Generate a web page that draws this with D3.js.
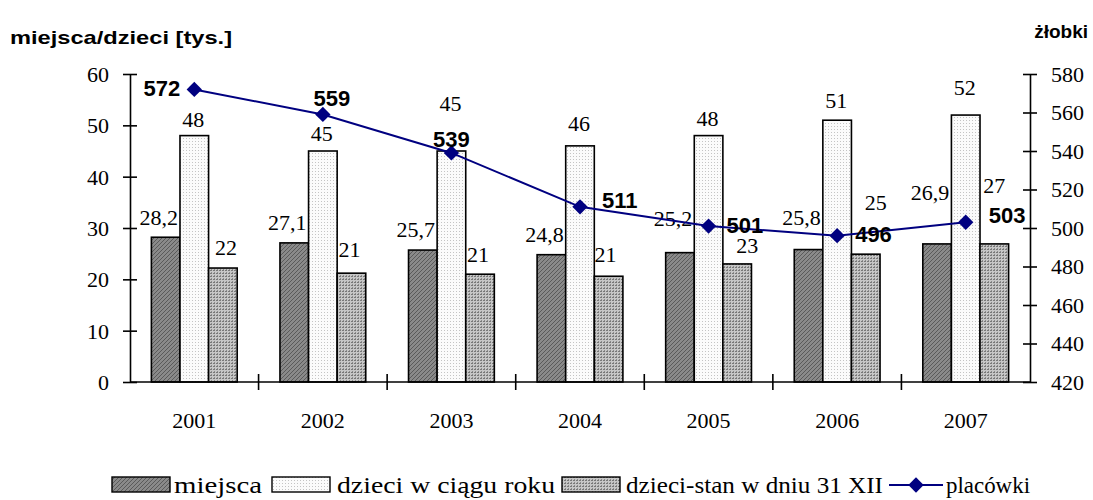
<!DOCTYPE html>
<html>
<head>
<meta charset="utf-8">
<script src="https://cdn.jsdelivr.net/npm/d3@7"></script>
<style>
  body { margin: 0; background: #fff; }
  svg { display: block; }
  .serif { font-family: "Liberation Serif", "Times New Roman", serif; }
  .sans { font-family: "Liberation Sans", Arial, sans-serif; font-weight: bold; }
</style>
</head>
<body>
<svg id="chart" width="1093" height="500"></svg>
<script>
var years = ["2001", "2002", "2003", "2004", "2005", "2006", "2007"]
var miejsca = [28.2, 27.1, 25.7, 24.8, 25.2, 25.8, 26.9]
var dzieciRok = [48, 45, 45, 46, 48, 51, 52]
var dzieciStan = [22.2, 21.2, 21, 20.6, 23, 24.9, 26.9]
var placowki = [572, 559, 539, 511, 501, 496, 503]
var leftTicks = [0, 10, 20, 30, 40, 50, 60]
var rightTicks = [420, 440, 460, 480, 500, 520, 540, 560, 580]

// label nudges (dx, dy from bar top) - hand placed like in the original
var miejscaDy = [-12, -13, -13, -13, -27, -25, -44]
var rokDy = [-9, -10, -40, -15, -10, -12, -20]
var stanDx = [3, -2, -2, -3, 10, 10, 0]
var stanDy = [-13, -16, -12, -14, -11, -44, -51]
// line labels: [anchor, dx, dy]
var lineLab = [["end", -14, 7], ["middle", 9, -8], ["middle", 0, -6], ["start", 22, 1],
               ["start", 18, 7], ["start", 18, 6], ["start", 23, 1]]

var svg = d3.select("#chart")
var pL = 130, pR = 1030, pT = 74, pB = 382

var x = d3.scaleBand().domain(years).range([pL, pR])
var y = d3.scaleLinear().domain([0, 60]).range([pB, pT])
var y2 = d3.scaleLinear().domain([420, 580]).range([pB, pT])
var bw = 28.6

var comma = function(v) { return d3.format(".1f")(v).replace(".", ",") }

// patterns
var defs = svg.append("defs")
var p1 = defs.append("pattern").attr("id", "pMiejsca").attr("patternUnits", "userSpaceOnUse")
  .attr("width", 4).attr("height", 4)
p1.append("rect").attr("width", 4).attr("height", 4).attr("fill", "#8a8a8a")
p1.append("path").attr("d", "M0,4 L4,0 M-1,1 L1,-1 M3,5 L5,3").attr("stroke", "#5a5a5a").attr("stroke-width", 1)

var p2 = defs.append("pattern").attr("id", "pRok").attr("patternUnits", "userSpaceOnUse")
  .attr("width", 3).attr("height", 3)
p2.append("rect").attr("width", 3).attr("height", 3).attr("fill", "#fbfbfb")
p2.append("rect").attr("width", 1).attr("height", 1).attr("fill", "#c4c4c4")

var p3 = defs.append("pattern").attr("id", "pStan").attr("patternUnits", "userSpaceOnUse")
  .attr("width", 3).attr("height", 3)
p3.append("rect").attr("width", 3).attr("height", 3).attr("fill", "#c6c6c6")
p3.append("rect").attr("width", 2).attr("height", 1).attr("fill", "#787878")
p3.append("rect").attr("x", 1).attr("y", 2).attr("width", 1).attr("height", 1).attr("fill", "#8a8a8a")

var series = [
  { vals: miejsca, fill: "url(#pMiejsca)", off: -1 },
  { vals: dzieciRok, fill: "url(#pRok)", off: 0 },
  { vals: dzieciStan, fill: "url(#pStan)", off: 1 }
]

function cx(d, i) { return x(years[i]) + x.bandwidth() / 2 }

series.forEach(function(s) {
  svg.append("g").selectAll("rect")
    .data(s.vals)
    .enter()
    .append("rect")
    .attr("x", function(d, i) { return cx(d, i) + s.off * bw - bw / 2 })
    .attr("y", function(d) { return y(d) })
    .attr("width", bw)
    .attr("height", function(d) { return pB - y(d) })
    .attr("fill", s.fill)
    .attr("stroke", "#000")
    .attr("stroke-width", 1.6)
})

// bar labels
var labs = svg.append("g").attr("class", "serif").style("font-size", "22px").attr("fill", "#000")
labs.selectAll("text.m").data(miejsca).enter().append("text")
  .attr("text-anchor", "middle")
  .attr("x", function(d, i) { return cx(d, i) - bw - 7 })
  .attr("y", function(d, i) { return y(d) + miejscaDy[i] })
  .text(comma)
labs.selectAll("text.r").data(dzieciRok).enter().append("text")
  .attr("text-anchor", "middle")
  .attr("x", function(d, i) { return cx(d, i) - 1 })
  .attr("y", function(d, i) { return y(d) + rokDy[i] })
  .text(d3.format(".0f"))
labs.selectAll("text.s").data(dzieciStan).enter().append("text")
  .attr("text-anchor", "middle")
  .attr("x", function(d, i) { return cx(d, i) + bw + stanDx[i] })
  .attr("y", function(d, i) { return y(d) + stanDy[i] })
  .text(d3.format(".0f"))

// axes
var axL = svg.append("g").attr("transform", "translate(" + pL + ",0)")
  .call(d3.axisLeft(y).tickValues(leftTicks).tickSize(7).tickSizeOuter(0).tickPadding(14))
var axR = svg.append("g").attr("transform", "translate(" + pR + ",0)")
  .call(d3.axisRight(y2).tickValues(rightTicks).tickSize(7).tickSizeOuter(0).tickPadding(14))
;[axL, axR].forEach(function(a) {
  a.attr("font-family", null).attr("font-size", null)
  a.select(".domain").attr("stroke", "#000").attr("stroke-width", 1.6)
  a.selectAll(".tick line").attr("x1", -7).attr("x2", 7).attr("stroke", "#000").attr("stroke-width", 1.6)
  a.selectAll(".tick text").attr("class", "serif").style("font-size", "22px").attr("fill", "#000").attr("dy", "0.34em")
})

var bounds = years.slice(1)
var axB = svg.append("g").attr("transform", "translate(0," + pB + ")")
axB.append("line").attr("x1", pL).attr("x2", pR).attr("stroke", "#000").attr("stroke-width", 1.6)
axB.selectAll("line.t").data(bounds).enter().append("line")
  .attr("x1", function(d) { return x(d) }).attr("x2", function(d) { return x(d) })
  .attr("y1", -8).attr("y2", 8).attr("stroke", "#000").attr("stroke-width", 1.6)
axB.selectAll("text").data(years).enter().append("text")
  .attr("class", "serif")
  .attr("x", function(d) { return x(d) + x.bandwidth() / 2 })
  .attr("y", 46)
  .attr("text-anchor", "middle")
  .style("font-size", "22px")
  .text(function(d) { return d })

// line
var line = d3.line().x(function(d, i) { return cx(d, i) }).y(function(d) { return y2(d) })
svg.append("path").datum(placowki).attr("d", line)
  .attr("fill", "none").attr("stroke", "#000080").attr("stroke-width", 2)
var diamond = d3.symbol().type(d3.symbolDiamond2).size(150)
svg.append("g").selectAll("path").data(placowki).enter().append("path")
  .attr("d", diamond)
  .attr("transform", function(d, i) { return "translate(" + cx(d, i) + "," + y2(d) + ")" })
  .attr("fill", "#000080")
svg.append("g").selectAll("text").data(placowki).enter().append("text")
  .attr("class", "sans")
  .attr("x", function(d, i) { return cx(d, i) + lineLab[i][1] })
  .attr("y", function(d, i) { return y2(d) + lineLab[i][2] })
  .attr("text-anchor", function(d, i) { return lineLab[i][0] })
  .style("font-size", "22px")
  .text(function(d) { return d })

// titles
svg.append("text").attr("class", "sans").attr("x", 10).attr("y", 44)
  .style("font-size", "19px")
  .attr("textLength", 222).attr("lengthAdjust", "spacingAndGlyphs")
  .text("miejsca/dzieci [tys.]")
svg.append("text").attr("class", "sans").attr("x", 1088).attr("y", 38).attr("text-anchor", "end")
  .style("font-size", "19px")
  .text("żłobki")

// legend
var lg = svg.append("g").attr("class", "serif").style("font-size", "23px")
var legBoxes = [[112, "url(#pMiejsca)"], [272, "url(#pRok)"], [562, "url(#pStan)"]]
lg.selectAll("rect").data(legBoxes).enter().append("rect")
  .attr("x", function(d) { return d[0] }).attr("y", 477)
  .attr("width", 58).attr("height", 15)
  .attr("fill", function(d) { return d[1] })
  .attr("stroke", "#000").attr("stroke-width", 1.4)
lg.append("line").attr("x1", 889).attr("x2", 943).attr("y1", 485).attr("y2", 485)
  .attr("stroke", "#000080").attr("stroke-width", 2)
lg.append("path").attr("d", diamond).attr("transform", "translate(916,485)").attr("fill", "#000080")
var legText = [[174, 88, "miejsca"], [337, 218, "dzieci w ciągu roku"],
               [626, 257, "dzieci-stan w dniu 31 XII"], [946, 84, "placówki"]]
lg.selectAll("text").data(legText).enter().append("text")
  .attr("x", function(d) { return d[0] }).attr("y", 493)
  .attr("textLength", function(d) { return d[1] })
  .attr("lengthAdjust", "spacingAndGlyphs")
  .text(function(d) { return d[2] })
</script>
</body>
</html>
